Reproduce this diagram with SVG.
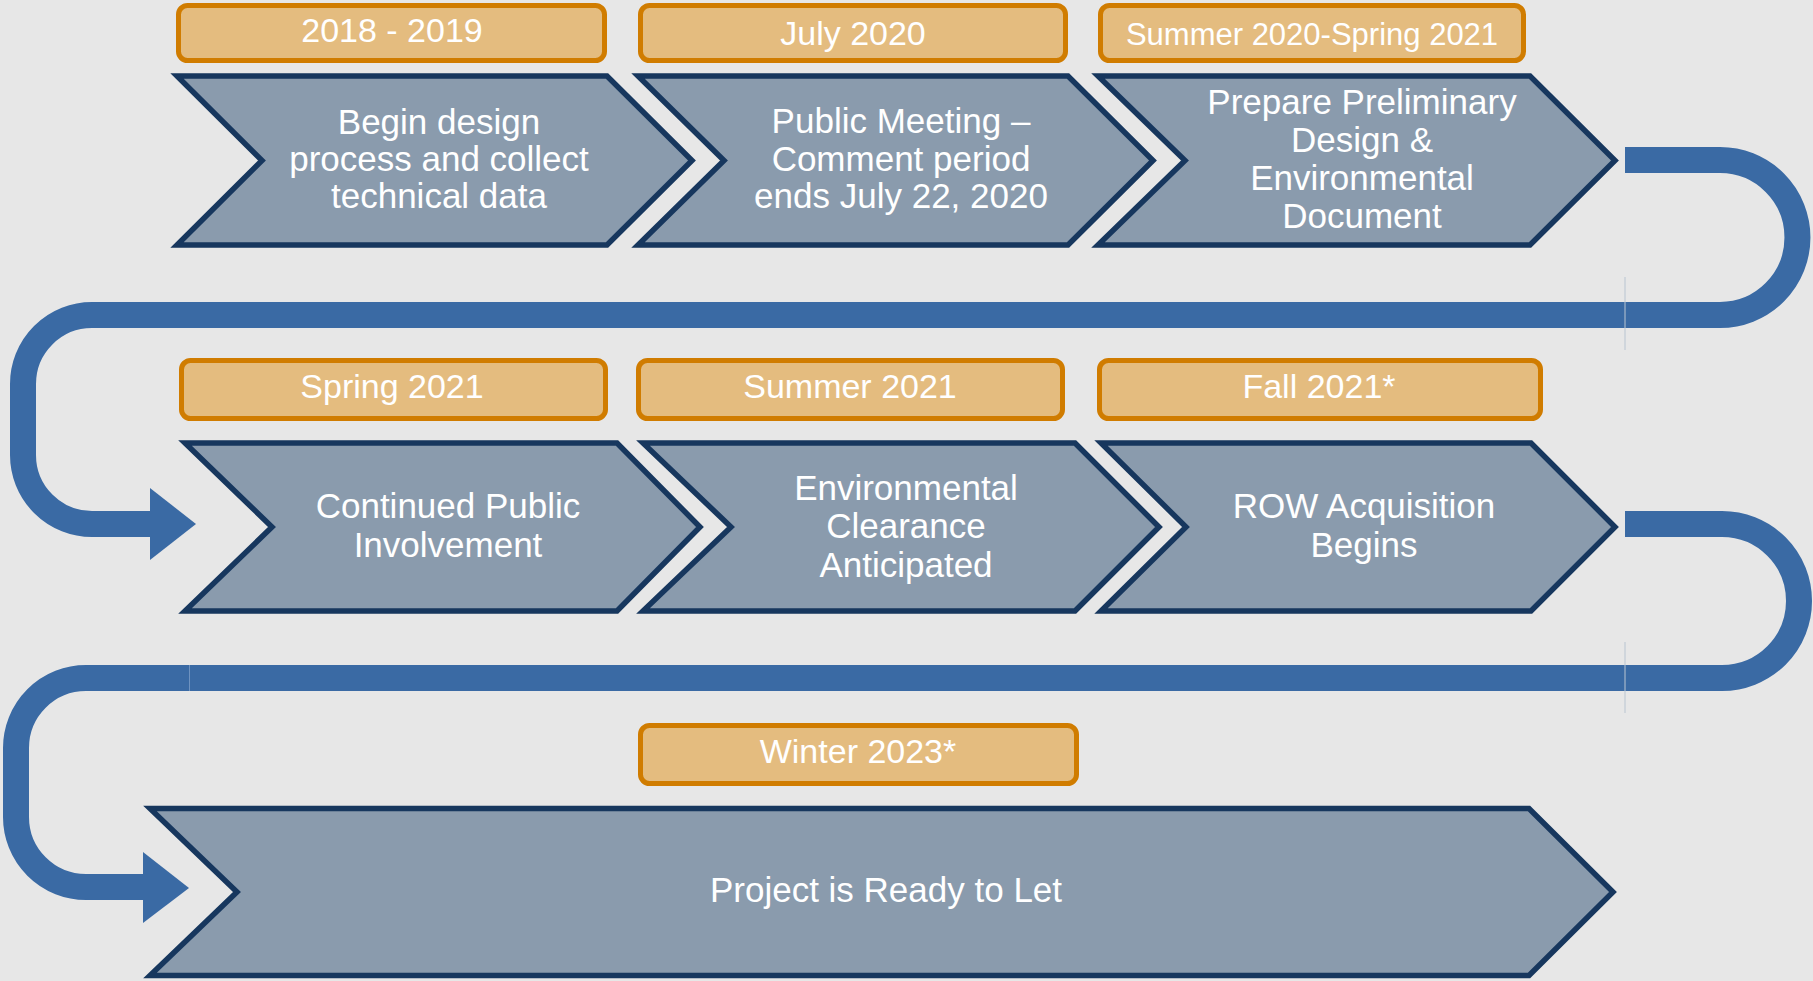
<svg xmlns="http://www.w3.org/2000/svg" width="1813" height="981" viewBox="0 0 1813 981">
<style>
.chev{fill:#8A9BAD;stroke:#17375E;stroke-width:5.5;stroke-linejoin:miter}
.lbl{fill:#E4BC7F;stroke:#D07C00;stroke-width:5}
.band{fill:none;stroke:#3A6AA4;stroke-width:26}
.head{fill:#3A6AA4}
.seam{stroke:#B9C5D1;stroke-width:1}
text{font-family:"Liberation Sans",Arial,sans-serif;fill:#FFFFFF;text-anchor:middle}
.lt{font-size:34px}
.bt{font-size:35px}
</style>
<rect x="0" y="0" width="1813" height="981" fill="#E7E7E7"/>
<g id="connectors">
<path class="band" d="M 1625 160 H 1720 A 77 77 0 0 1 1720 315 H 92 A 69 69 0 0 0 23 384 V 455 A 69 69 0 0 0 92 524 H 152"/>
<polygon class="head" points="150,488 196,524 150,560"/>
<path class="band" d="M 1625 524 H 1722 A 77 77 0 0 1 1722 678 H 86 A 70 70 0 0 0 16 748 V 817 A 70 70 0 0 0 86 887 H 145"/>
<polygon class="head" points="143,852 189,888 143,923"/>
<line class="seam" x1="1625" y1="277" x2="1625" y2="350"/>
<line class="seam" x1="1625" y1="642" x2="1625" y2="713"/>
<line x1="189.5" y1="665" x2="189.5" y2="691" stroke="#6F93C0" stroke-width="1"/>
</g>
<g id="step1">
<rect class="lbl" x="178.5" y="5.5" width="426" height="55" rx="9"/>
<text class="lt" x="392" y="42">2018 - 2019</text>
<polygon class="chev" points="177,76 607,76 692,160.5 607,245 177,245 262,160.5"/>
<text class="bt" x="439" y="134">Begin design</text>
<text class="bt" x="439" y="171">process and collect</text>
<text class="bt" x="439" y="208">technical data</text>
</g>
<g id="step2">
<rect class="lbl" x="640.5" y="5.5" width="425" height="55" rx="9"/>
<text class="lt" x="853" y="45">July 2020</text>
<polygon class="chev" points="638,76 1068,76 1153,160.5 1068,245 638,245 724,160.5"/>
<text class="bt" x="901" y="133">Public Meeting –</text>
<text class="bt" x="901" y="171">Comment period</text>
<text class="bt" x="901" y="208">ends July 22, 2020</text>
</g>
<g id="step3">
<rect class="lbl" x="1100.5" y="5.5" width="423" height="55" rx="9"/>
<text class="lt" x="1312" y="45" style="font-size:31px">Summer 2020-Spring 2021</text>
<polygon class="chev" points="1098,76 1530,76 1615,160.5 1530,245 1098,245 1185,160.5"/>
<text class="bt" x="1362" y="114">Prepare Preliminary</text>
<text class="bt" x="1362" y="152">Design &amp;</text>
<text class="bt" x="1362" y="190">Environmental</text>
<text class="bt" x="1362" y="228">Document</text>
</g>
<g id="step4">
<rect class="lbl" x="181.5" y="360.5" width="424" height="58" rx="9"/>
<text class="lt" x="392" y="398">Spring 2021</text>
<polygon class="chev" points="185,443 617,443 700,527 617,611 185,611 272,527"/>
<text class="bt" x="448" y="518">Continued Public</text>
<text class="bt" x="448" y="557">Involvement</text>
</g>
<g id="step5">
<rect class="lbl" x="638.5" y="360.5" width="424" height="58" rx="9"/>
<text class="lt" x="850" y="398">Summer 2021</text>
<polygon class="chev" points="643,443 1075,443 1159,527 1075,611 643,611 731,527"/>
<text class="bt" x="906" y="500">Environmental</text>
<text class="bt" x="906" y="538">Clearance</text>
<text class="bt" x="906" y="577">Anticipated</text>
</g>
<g id="step6">
<rect class="lbl" x="1099.5" y="360.5" width="441" height="58" rx="9"/>
<text class="lt" x="1319" y="398">Fall 2021*</text>
<polygon class="chev" points="1101,443 1531,443 1615,527 1531,611 1101,611 1186,527"/>
<text class="bt" x="1364" y="518">ROW Acquisition</text>
<text class="bt" x="1364" y="557">Begins</text>
</g>
<g id="step7">
<rect class="lbl" x="640.5" y="725.5" width="436" height="58" rx="9"/>
<text class="lt" x="858" y="763">Winter 2023*</text>
<polygon class="chev" points="150,808.5 1529,808.5 1613,892 1529,975.5 150,975.5 237,892"/>
<text class="bt" x="886" y="902">Project is Ready to Let</text>
</g>
</svg>
